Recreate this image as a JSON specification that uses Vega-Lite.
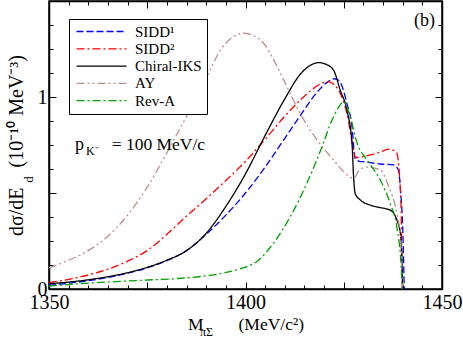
{
  "$schema": "https://vega.github.io/schema/vega-lite/v6.json",
  "width": 393,
  "height": 288,
  "autosize": {"type": "none"},
  "padding": {"left": 49, "top": 1, "right": 21, "bottom": 53},
  "background": "white",
  "config": {
    "view": {"stroke": "black", "strokeWidth": 1.5},
    "font": "Liberation Serif",
    "axis": {
      "grid": false,
      "domainColor": "black",
      "domainWidth": 1.5,
      "tickColor": "black",
      "tickWidth": 1,
      "labelColor": "black",
      "labelFont": "Liberation Serif",
      "labelFontSize": 20,
      "labelOverlap": false,
      "labelFlush": false,
      "titleFont": "Liberation Serif",
      "titleFontWeight": "normal",
      "titleColor": "black",
      "titleFontSize": 18
    }
  },
  "datasets": {
    "curves": [
      {"model": "SIDD¹", "m": 1350, "v": 0.02},
      {"model": "SIDD¹", "m": 1355, "v": 0.03},
      {"model": "SIDD¹", "m": 1360, "v": 0.043},
      {"model": "SIDD¹", "m": 1365, "v": 0.06},
      {"model": "SIDD¹", "m": 1370, "v": 0.082},
      {"model": "SIDD¹", "m": 1375, "v": 0.11},
      {"model": "SIDD¹", "m": 1380, "v": 0.148},
      {"model": "SIDD¹", "m": 1385, "v": 0.2},
      {"model": "SIDD¹", "m": 1390, "v": 0.285},
      {"model": "SIDD¹", "m": 1395, "v": 0.385},
      {"model": "SIDD¹", "m": 1400, "v": 0.5},
      {"model": "SIDD¹", "m": 1405, "v": 0.635},
      {"model": "SIDD¹", "m": 1410, "v": 0.785},
      {"model": "SIDD¹", "m": 1414, "v": 0.905},
      {"model": "SIDD¹", "m": 1418, "v": 1.02},
      {"model": "SIDD¹", "m": 1421, "v": 1.08},
      {"model": "SIDD¹", "m": 1422.4, "v": 1.095},
      {"model": "SIDD¹", "m": 1423.5, "v": 1.09},
      {"model": "SIDD¹", "m": 1424.5, "v": 1.06},
      {"model": "SIDD¹", "m": 1425.8, "v": 0.967},
      {"model": "SIDD¹", "m": 1427.1, "v": 0.845},
      {"model": "SIDD¹", "m": 1427.9, "v": 0.68},
      {"model": "SIDD¹", "m": 1429, "v": 0.665},
      {"model": "SIDD¹", "m": 1430, "v": 0.663},
      {"model": "SIDD¹", "m": 1434.3, "v": 0.651},
      {"model": "SIDD¹", "m": 1437.7, "v": 0.646},
      {"model": "SIDD¹", "m": 1438.9, "v": 0.62},
      {"model": "SIDD¹", "m": 1439.5, "v": 0.5},
      {"model": "SIDD¹", "m": 1440, "v": 0.32},
      {"model": "SIDD¹", "m": 1440.4, "v": 0},

      {"model": "SIDD²", "m": 1350, "v": 0.033},
      {"model": "SIDD²", "m": 1355, "v": 0.05},
      {"model": "SIDD²", "m": 1360, "v": 0.073},
      {"model": "SIDD²", "m": 1365, "v": 0.103},
      {"model": "SIDD²", "m": 1370, "v": 0.145},
      {"model": "SIDD²", "m": 1375, "v": 0.2},
      {"model": "SIDD²", "m": 1380, "v": 0.285},
      {"model": "SIDD²", "m": 1385, "v": 0.38},
      {"model": "SIDD²", "m": 1390, "v": 0.47},
      {"model": "SIDD²", "m": 1395, "v": 0.565},
      {"model": "SIDD²", "m": 1400, "v": 0.665},
      {"model": "SIDD²", "m": 1405, "v": 0.78},
      {"model": "SIDD²", "m": 1410, "v": 0.9},
      {"model": "SIDD²", "m": 1414, "v": 0.985},
      {"model": "SIDD²", "m": 1417, "v": 1.04},
      {"model": "SIDD²", "m": 1419.8, "v": 1.075},
      {"model": "SIDD²", "m": 1421.1, "v": 1.08},
      {"model": "SIDD²", "m": 1422.5, "v": 1.065},
      {"model": "SIDD²", "m": 1424.1, "v": 1.02},
      {"model": "SIDD²", "m": 1425.8, "v": 0.915},
      {"model": "SIDD²", "m": 1427.5, "v": 0.724},
      {"model": "SIDD²", "m": 1428, "v": 0.685},
      {"model": "SIDD²", "m": 1430, "v": 0.69},
      {"model": "SIDD²", "m": 1431.7, "v": 0.698},
      {"model": "SIDD²", "m": 1434, "v": 0.71},
      {"model": "SIDD²", "m": 1436.4, "v": 0.728},
      {"model": "SIDD²", "m": 1437.7, "v": 0.722},
      {"model": "SIDD²", "m": 1438.5, "v": 0.707},
      {"model": "SIDD²", "m": 1439.2, "v": 0.585},
      {"model": "SIDD²", "m": 1439.6, "v": 0.41},
      {"model": "SIDD²", "m": 1439.9, "v": 0},

      {"model": "Chiral-IKS", "m": 1350, "v": 0.028},
      {"model": "Chiral-IKS", "m": 1355, "v": 0.036},
      {"model": "Chiral-IKS", "m": 1360, "v": 0.048},
      {"model": "Chiral-IKS", "m": 1365, "v": 0.064},
      {"model": "Chiral-IKS", "m": 1370, "v": 0.085},
      {"model": "Chiral-IKS", "m": 1375, "v": 0.113},
      {"model": "Chiral-IKS", "m": 1380, "v": 0.15},
      {"model": "Chiral-IKS", "m": 1385, "v": 0.2},
      {"model": "Chiral-IKS", "m": 1390, "v": 0.29},
      {"model": "Chiral-IKS", "m": 1395, "v": 0.43},
      {"model": "Chiral-IKS", "m": 1400, "v": 0.6},
      {"model": "Chiral-IKS", "m": 1405, "v": 0.8},
      {"model": "Chiral-IKS", "m": 1410, "v": 0.99},
      {"model": "Chiral-IKS", "m": 1414, "v": 1.12},
      {"model": "Chiral-IKS", "m": 1416.5, "v": 1.165},
      {"model": "Chiral-IKS", "m": 1418.6, "v": 1.179},
      {"model": "Chiral-IKS", "m": 1420.5, "v": 1.17},
      {"model": "Chiral-IKS", "m": 1422.4, "v": 1.14},
      {"model": "Chiral-IKS", "m": 1424.1, "v": 1.036},
      {"model": "Chiral-IKS", "m": 1425.8, "v": 0.932},
      {"model": "Chiral-IKS", "m": 1427.1, "v": 0.76},
      {"model": "Chiral-IKS", "m": 1427.5, "v": 0.585},
      {"model": "Chiral-IKS", "m": 1427.9, "v": 0.498},
      {"model": "Chiral-IKS", "m": 1429.2, "v": 0.464},
      {"model": "Chiral-IKS", "m": 1431.7, "v": 0.4375},
      {"model": "Chiral-IKS", "m": 1434, "v": 0.425},
      {"model": "Chiral-IKS", "m": 1436.8, "v": 0.411},
      {"model": "Chiral-IKS", "m": 1438.5, "v": 0.36},
      {"model": "Chiral-IKS", "m": 1439.4, "v": 0.29},
      {"model": "Chiral-IKS", "m": 1439.8, "v": 0.15},
      {"model": "Chiral-IKS", "m": 1440, "v": 0},

      {"model": "AY", "m": 1350, "v": 0.11},
      {"model": "AY", "m": 1355, "v": 0.15},
      {"model": "AY", "m": 1360, "v": 0.2},
      {"model": "AY", "m": 1365, "v": 0.275},
      {"model": "AY", "m": 1370, "v": 0.385},
      {"model": "AY", "m": 1375, "v": 0.53},
      {"model": "AY", "m": 1380, "v": 0.71},
      {"model": "AY", "m": 1385, "v": 0.9},
      {"model": "AY", "m": 1390, "v": 1.1},
      {"model": "AY", "m": 1394, "v": 1.255},
      {"model": "AY", "m": 1397, "v": 1.315},
      {"model": "AY", "m": 1399.5, "v": 1.332},
      {"model": "AY", "m": 1402, "v": 1.32},
      {"model": "AY", "m": 1404.6, "v": 1.28},
      {"model": "AY", "m": 1407, "v": 1.2},
      {"model": "AY", "m": 1409.7, "v": 1.089},
      {"model": "AY", "m": 1413.9, "v": 0.915},
      {"model": "AY", "m": 1418.2, "v": 0.776},
      {"model": "AY", "m": 1422.4, "v": 0.672},
      {"model": "AY", "m": 1425, "v": 0.61},
      {"model": "AY", "m": 1427.5, "v": 0.577},
      {"model": "AY", "m": 1429, "v": 0.62},
      {"model": "AY", "m": 1431, "v": 0.635},
      {"model": "AY", "m": 1434.3, "v": 0.62},
      {"model": "AY", "m": 1436.5, "v": 0.53},
      {"model": "AY", "m": 1438.5, "v": 0.394},
      {"model": "AY", "m": 1439.5, "v": 0.255},
      {"model": "AY", "m": 1439.9, "v": 0},

      {"model": "Rev-A", "m": 1350, "v": 0.015},
      {"model": "Rev-A", "m": 1358, "v": 0.028},
      {"model": "Rev-A", "m": 1366.7, "v": 0.038},
      {"model": "Rev-A", "m": 1375.2, "v": 0.047},
      {"model": "Rev-A", "m": 1383.7, "v": 0.056},
      {"model": "Rev-A", "m": 1392.2, "v": 0.075},
      {"model": "Rev-A", "m": 1396, "v": 0.09},
      {"model": "Rev-A", "m": 1398.6, "v": 0.105},
      {"model": "Rev-A", "m": 1400.7, "v": 0.12},
      {"model": "Rev-A", "m": 1403, "v": 0.145},
      {"model": "Rev-A", "m": 1405, "v": 0.185},
      {"model": "Rev-A", "m": 1407.1, "v": 0.238},
      {"model": "Rev-A", "m": 1411.4, "v": 0.377},
      {"model": "Rev-A", "m": 1415.6, "v": 0.55},
      {"model": "Rev-A", "m": 1419.8, "v": 0.759},
      {"model": "Rev-A", "m": 1421.6, "v": 0.86},
      {"model": "Rev-A", "m": 1423.5, "v": 0.94},
      {"model": "Rev-A", "m": 1425, "v": 0.975},
      {"model": "Rev-A", "m": 1426.6, "v": 0.9},
      {"model": "Rev-A", "m": 1428.4, "v": 0.759},
      {"model": "Rev-A", "m": 1430.9, "v": 0.672},
      {"model": "Rev-A", "m": 1434.3, "v": 0.568},
      {"model": "Rev-A", "m": 1436.8, "v": 0.446},
      {"model": "Rev-A", "m": 1438.5, "v": 0.324},
      {"model": "Rev-A", "m": 1439.5, "v": 0.151},
      {"model": "Rev-A", "m": 1439.9, "v": 0}
    ]
  },
  "layer": [
    {
      "data": {"name": "curves"},
      "mark": {"type": "line", "interpolate": "monotone", "strokeWidth": 1.3},
      "encoding": {
        "x": {
          "field": "m", "type": "quantitative",
          "scale": {"domain": [1350, 1450], "nice": false},
          "axis": {
            "orient": "bottom",
            "values": [1350,1355,1360,1365,1370,1375,1380,1385,1390,1395,1400,1405,1410,1415,1420,1425,1430,1435,1440,1445,1450],
            "labelExpr": "datum.value == 1350 ? '1350' : datum.value == 1400 ? '1400' : datum.value == 1450 ? '1450' : ''",
            "tickSize": {"condition": {"test": "datum.value % 25 === 0", "value": -7}, "value": -4},
            "labelPadding": 10,
            "title": "M\u2003\u2003(MeV/c²)",
            "titleFontSize": 17.5,
            "titlePadding": 0
          }
        },
        "y": {
          "field": "v", "type": "quantitative",
          "scale": {"domain": [0, 1.5], "nice": false, "zero": false},
          "axis": {
            "orient": "left",
            "values": [0,0.125,0.25,0.375,0.5,0.625,0.75,0.875,1,1.125,1.25,1.375,1.5],
            "labelExpr": "datum.value == 0 ? '0' : datum.value == 1 ? '1' : ''",
            "tickSize": {"condition": {"test": "datum.value % 0.5 === 0", "value": -7}, "value": -4},
            "labelPadding": 9,
            "title": "dσ/dE\u2003(10⁻¹⁰ MeV⁻³)",
            "titleFontSize": 20,
            "titlePadding": 11
          }
        },
        "color": {
          "field": "model", "type": "nominal",
          "scale": {"domain": ["SIDD¹", "SIDD²", "Chiral-IKS", "AY", "Rev-A"], "range": ["#0000ff", "#ff0000", "#000000", "#bc8f8f", "#00a000"]},
          "legend": {
            "orient": "none", "legendX": 20, "legendY": 18, "title": null,
            "symbolType": "M-1,0H9", "symbolSize": 100, "symbolStrokeWidth": 1.3,
            "symbolFillColor": "transparent",
            "labelFont": "Liberation Serif", "labelFontSize": 15, "labelColor": "black",
            "labelOffset": 46, "strokeColor": "black", "fillColor": "white",
            "padding": 5, "rowPadding": 1.3
          }
        },
        "strokeDash": {
          "field": "model", "type": "nominal",
          "scale": {"domain": ["SIDD¹", "SIDD²", "Chiral-IKS", "AY", "Rev-A"], "range": [[7, 3], [8, 3, 2, 3], [1, 0], [8, 3, 2, 3, 2, 3], [8, 3, 2, 3]]},
          "legend": {
            "orient": "none", "legendX": 20, "legendY": 18, "title": null,
            "symbolType": "M-1,0H9", "symbolSize": 100, "symbolStrokeWidth": 1.3,
            "symbolFillColor": "transparent",
            "labelFont": "Liberation Serif", "labelFontSize": 15, "labelColor": "black",
            "labelOffset": 46, "strokeColor": "black", "fillColor": "white",
            "padding": 5, "rowPadding": 1.3
          }
        }
      }
    },
    {
      "data": {"name": "curves"},
      "mark": {"type": "line", "opacity": 0},
      "encoding": {
        "x": {
          "field": "m", "type": "quantitative",
          "axis": {
            "orient": "top",
            "values": [1350,1355,1360,1365,1370,1375,1380,1385,1390,1395,1400,1405,1410,1415,1420,1425,1430,1435,1440,1445,1450],
            "labels": false, "title": null,
            "tickSize": {"condition": {"test": "datum.value % 25 === 0", "value": -7}, "value": -4}
          }
        },
        "y": {
          "field": "v", "type": "quantitative",
          "axis": {
            "orient": "right",
            "values": [0,0.125,0.25,0.375,0.5,0.625,0.75,0.875,1,1.125,1.25,1.375,1.5],
            "labels": false, "title": null,
            "tickSize": {"condition": {"test": "datum.value % 0.5 === 0", "value": -7}, "value": -4}
          }
        }
      }
    },
    {
      "data": {"values": [{}]},
      "mark": {"type": "text", "text": "(b)", "font": "Liberation Serif", "fontSize": 18, "align": "right", "baseline": "alphabetic"},
      "encoding": {
        "x": {"datum": 1448.2, "type": "quantitative", "axis": null},
        "y": {"datum": 1.37, "type": "quantitative", "axis": null}
      }
    },
    {
      "data": {"values": [{}]},
      "mark": {"type": "text", "text": "p", "font": "Liberation Serif", "fontSize": 18, "align": "left", "baseline": "alphabetic"},
      "encoding": {
        "x": {"datum": 1356.6, "type": "quantitative", "axis": null},
        "y": {"datum": 0.724, "type": "quantitative", "axis": null}
      }
    },
    {
      "data": {"values": [{}]},
      "mark": {"type": "text", "text": "K⁻", "font": "Liberation Serif", "fontSize": 12, "align": "left", "baseline": "alphabetic", "dx": 11, "dy": 5},
      "encoding": {
        "x": {"datum": 1356.6, "type": "quantitative", "axis": null},
        "y": {"datum": 0.724, "type": "quantitative", "axis": null}
      }
    },
    {
      "data": {"values": [{}]},
      "mark": {"type": "text", "text": "= 100 MeV/c", "font": "Liberation Serif", "fontSize": 17.5, "align": "left", "baseline": "alphabetic", "dx": 36.7},
      "encoding": {
        "x": {"datum": 1356.6, "type": "quantitative", "axis": null},
        "y": {"datum": 0.724, "type": "quantitative", "axis": null}
      }
    },
    {
      "data": {"values": [{}]},
      "mark": {"type": "text", "text": "πΣ", "font": "Liberation Serif", "fontSize": 12, "align": "left", "baseline": "alphabetic", "dy": 47},
      "encoding": {
        "x": {"datum": 1388.4, "type": "quantitative", "axis": null},
        "y": {"datum": 0, "type": "quantitative", "axis": null}
      }
    },
    {
      "data": {"values": [{}]},
      "mark": {"type": "text", "text": "d", "font": "Liberation Serif", "fontSize": 13, "align": "center", "baseline": "alphabetic", "angle": 270, "dy": -16},
      "encoding": {
        "x": {"datum": 1350, "type": "quantitative", "axis": null},
        "y": {"datum": 0.57, "type": "quantitative", "axis": null}
      }
    }
  ],
  "resolve": {"axis": {"x": "independent", "y": "independent"}}
}
